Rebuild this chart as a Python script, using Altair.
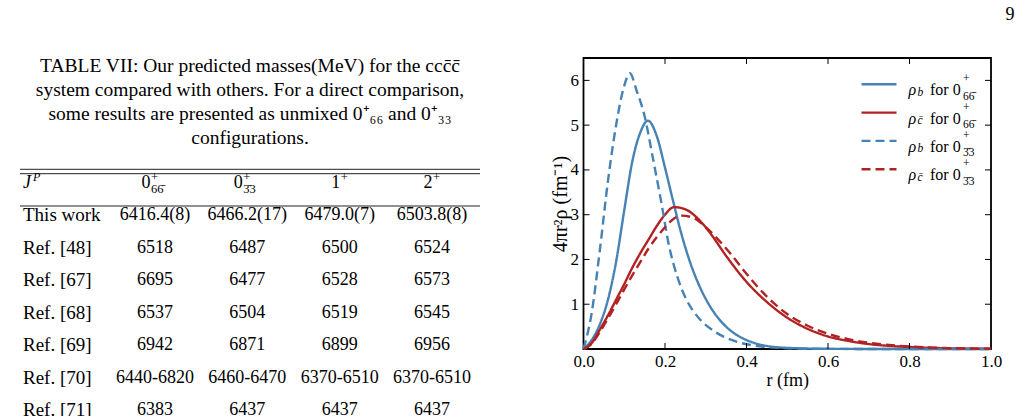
import altair as alt
import pandas as pd

SERIF = "Liberation Serif"

# ---------------- radial densities 4πr²ρ (fm⁻¹) against r (fm) ----------------
r_b66 = [0, 0.02, 0.04, 0.06, 0.08, 0.10, 0.12, 0.14, 0.158, 0.18, 0.20, 0.22, 0.24,
         0.26, 0.28, 0.30, 0.32, 0.34, 0.37, 0.40, 0.44, 0.50, 0.60, 0.80, 1.00]
d_b66 = [0, 0.20, 0.55, 1.10, 1.95, 3.10, 4.20, 4.85, 5.10, 4.75, 4.05, 3.30, 2.58,
         1.98, 1.50, 1.12, 0.82, 0.59, 0.35, 0.20, 0.085, 0.025, 0.004, 0, 0]

r_c66 = [0, 0.02, 0.04, 0.06, 0.08, 0.10, 0.12, 0.14, 0.16, 0.18, 0.20, 0.222, 0.25,
         0.28, 0.31, 0.35, 0.40, 0.45, 0.50, 0.55, 0.60, 0.65, 0.70, 0.75, 0.80, 0.90, 1.00]
d_c66 = [0, 0.13, 0.43, 0.75, 1.10, 1.45, 1.82, 2.15, 2.45, 2.75, 3.00, 3.17, 3.12,
         2.92, 2.60, 2.08, 1.50, 1.05, 0.70, 0.45, 0.28, 0.18, 0.11, 0.07, 0.045, 0.015, 0.005]

r_b33 = [0, 0.02, 0.04, 0.06, 0.08, 0.10, 0.114, 0.13, 0.15, 0.17, 0.19, 0.21, 0.23,
         0.25, 0.27, 0.29, 0.32, 0.35, 0.38, 0.41, 0.45, 0.50, 0.60, 0.80, 1.00]
d_b33 = [0, 0.80, 2.20, 3.75, 5.00, 5.88, 6.16, 5.78, 5.20, 4.28, 3.32, 2.30, 1.62,
         1.15, 0.84, 0.62, 0.40, 0.25, 0.15, 0.09, 0.045, 0.017, 0.003, 0, 0]

r_c33 = [0, 0.02, 0.04, 0.06, 0.08, 0.10, 0.12, 0.14, 0.16, 0.18, 0.20, 0.22, 0.24,
         0.27, 0.30, 0.33, 0.36, 0.40, 0.45, 0.50, 0.55, 0.60, 0.65, 0.70, 0.75, 0.80, 0.90, 1.00]
d_c33 = [0, 0.12, 0.38, 0.68, 1.00, 1.33, 1.65, 1.95, 2.25, 2.50, 2.72, 2.90, 2.98,
         2.93, 2.72, 2.45, 2.14, 1.68, 1.17, 0.78, 0.52, 0.34, 0.22, 0.14, 0.09, 0.055, 0.02, 0.006]

curve_keys = ["b66", "c66", "b33", "c33"]
curve_colors = ["#4682b4", "#b22222", "#4682b4", "#b22222"]
curve_dashes = [[1, 0], [1, 0], [9, 5], [9, 5]]
legend_sub = ["b", "c\u0304", "b", "c\u0304"]
legend_cfg = ["66\u0304", "66\u0304", "3\u03043", "3\u03043"]

x_ticks = [0.0, 0.2, 0.4, 0.6, 0.8, 1.0]
y_ticks = [1, 2, 3, 4, 5, 6]

# ---------------- table of masses (MeV) ----------------
caption = [
    "TABLE VII: Our predicted masses(MeV) for the ccc\u0304c\u0304",
    "system compared with others. For a direct comparison,",
    "some results are presented as unmixed 0\u207a\u2086\u2086 and 0\u207a\u2083\u2083",
    "configurations.",
]
row_labels = ["This work", "Ref. [48]", "Ref. [67]", "Ref. [68]", "Ref. [69]", "Ref. [70]", "Ref. [71]"]
mass_0p66 = ["6416.4(8)", "6518", "6695", "6537", "6942", "6440-6820", "6383"]
mass_0p33 = ["6466.2(17)", "6487", "6477", "6504", "6871", "6460-6470", "6437"]
mass_1p = ["6479.0(7)", "6500", "6528", "6519", "6899", "6370-6510", "6437"]
mass_2p = ["6503.8(8)", "6524", "6573", "6545", "6956", "6370-6510", "6437"]
page_number = "9"

# ======================= table panel =======================
TW, TH = 500, 359
col_scale = alt.Scale(domain=[1, 4], range=[155, 432])
row_scale = alt.Scale(domain=[0, 7], range=[124.5, 352])
cap_scale = alt.Scale(domain=[0, 3], range=[8, 80])
txt = dict(font=SERIF, color="black", clip=True)

cell_rows = []
for j, column in enumerate([mass_0p66, mass_0p33, mass_1p, mass_2p]):
    for i, v in enumerate(column):
        cell_rows.append({"row": i + 1, "col": j + 1, "text": v})
cells = pd.DataFrame(cell_rows)

X_COL = alt.X("col:Q", scale=col_scale, axis=None)
Y_ROW = alt.Y("row:Q", scale=row_scale, axis=None)

layers_t = []
layers_t.append(
    alt.Chart(pd.DataFrame({"line": range(4), "text": caption}))
    .mark_text(align="center", baseline="middle", fontSize=19.5, **txt)
    .encode(x=alt.value(250), y=alt.Y("line:Q", scale=cap_scale, axis=None), text="text:N")
)
for yy in [111.3, 115.7, 148]:
    layers_t.append(
        alt.Chart(pd.DataFrame({"k": [0]}))
        .mark_rule(color="#222222", strokeWidth=1)
        .encode(x=alt.value(20), x2=alt.value(480), y=alt.value(yy))
    )
layers_t.append(
    alt.Chart(cells).mark_text(align="center", baseline="middle", fontSize=18, **txt)
    .encode(x=X_COL, y=Y_ROW, text="text:N")
)
layers_t.append(
    alt.Chart(pd.DataFrame({"row": range(1, 8), "text": row_labels}))
    .mark_text(align="left", baseline="middle", fontSize=19, **txt)
    .encode(x=alt.value(23), y=Y_ROW, text="text:N")
)
# header: J^P
hdr0 = pd.DataFrame({"row": [0], "j": ["J"], "p": ["P"]})
layers_t.append(
    alt.Chart(hdr0).mark_text(align="left", baseline="middle", fontSize=18, fontStyle="italic", **txt)
    .encode(x=alt.value(23), y=Y_ROW, text="j:N")
)
layers_t.append(
    alt.Chart(hdr0).mark_text(align="left", baseline="middle", fontSize=12, fontStyle="italic", dy=-6, **txt)
    .encode(x=alt.value(33), y=Y_ROW, text="p:N")
)
# header: 0+ with colour configuration subscripts
hdr_a = pd.DataFrame({"row": [0, 0], "col": [1, 2], "main": ["0", "0"], "sup": ["+", "+"],
                      "sub": ["66\u0304", "3\u03043"]})
layers_t.append(alt.Chart(hdr_a).mark_text(align="right", baseline="middle", fontSize=18, dx=-4.5, **txt)
                .encode(x=X_COL, y=Y_ROW, text="main:N"))
layers_t.append(alt.Chart(hdr_a).mark_text(align="left", baseline="middle", fontSize=12.5, dx=-4, dy=-6, **txt)
                .encode(x=X_COL, y=Y_ROW, text="sup:N"))
layers_t.append(alt.Chart(hdr_a).mark_text(align="left", baseline="middle", fontSize=12.5, dx=-4, dy=6.5, **txt)
                .encode(x=X_COL, y=Y_ROW, text="sub:N"))
hdr_b = pd.DataFrame({"row": [0, 0], "col": [3, 4], "main": ["1", "2"], "sup": ["+", "+"]})
layers_t.append(alt.Chart(hdr_b).mark_text(align="right", baseline="middle", fontSize=18, dx=0.5, **txt)
                .encode(x=X_COL, y=Y_ROW, text="main:N"))
layers_t.append(alt.Chart(hdr_b).mark_text(align="left", baseline="middle", fontSize=12.5, dx=1, dy=-6, **txt)
                .encode(x=X_COL, y=Y_ROW, text="sup:N"))

table = alt.layer(*layers_t).resolve_scale(y="independent").properties(width=TW, height=TH)

# ======================= density plot =======================
PW, PH = 407.5, 291
xsc = alt.Scale(domain=[0, 1], nice=False)
ysc = alt.Scale(domain=[0, 6.5], nice=False)

curves = pd.concat([
    pd.DataFrame({"r": r_b66, "v": d_b66, "curve": "b66"}),
    pd.DataFrame({"r": r_c66, "v": d_c66, "curve": "c66"}),
    pd.DataFrame({"r": r_b33, "v": d_b33, "curve": "b33"}),
    pd.DataFrame({"r": r_c33, "v": d_c33, "curve": "c33"}),
], ignore_index=True)

x_axis = alt.Axis(values=x_ticks, format=".1f", ticks=False, domain=False, grid=False,
                  labelFont=SERIF, labelFontSize=17, labelColor="black", labelPadding=4,
                  labelFlush=False, title="r (fm)", titleFont=SERIF, titleFontSize=18,
                  titleFontWeight="normal", titleColor="black", titlePadding=2)
y_axis = alt.Axis(values=y_ticks, format="d", ticks=False, domain=False, grid=False,
                  labelFont=SERIF, labelFontSize=17, labelColor="black", labelPadding=5,
                  labelFlush=False, title="4πr²ρ (fm⁻¹)", titleFont=SERIF, titleFontSize=20,
                  titleFontWeight="normal", titleColor="black", titlePadding=0)

# every layer that uses a positional scale carries the same axis definition,
# so the layer merges them into a single axis per channel
X_R = alt.X("r:Q", scale=xsc, axis=x_axis)
Y_V = alt.Y("v:Q", scale=ysc, axis=y_axis)

lines = alt.Chart(curves).mark_line(strokeWidth=2.4, interpolate="monotone").encode(
    x=X_R,
    y=Y_V,
    color=alt.Color("curve:N", scale=alt.Scale(domain=curve_keys, range=curve_colors), legend=None),
    strokeDash=alt.StrokeDash("curve:N", scale=alt.Scale(domain=curve_keys, range=curve_dashes), legend=None),
)

layers_p = [lines]
TL = 6  # inward tick length
xt = pd.DataFrame({"r": x_ticks[1:-1]})
yt = pd.DataFrame({"v": y_ticks})
tick_style = dict(color="black", strokeWidth=1)
layers_p.append(alt.Chart(xt).mark_rule(**tick_style).encode(
    x=X_R, y=alt.value(PH), y2=alt.value(PH - TL)))
layers_p.append(alt.Chart(xt).mark_rule(**tick_style).encode(
    x=X_R, y=alt.value(0), y2=alt.value(TL)))
layers_p.append(alt.Chart(yt).mark_rule(**tick_style).encode(
    y=Y_V, x=alt.value(0), x2=alt.value(TL)))
layers_p.append(alt.Chart(yt).mark_rule(**tick_style).encode(
    y=Y_V, x=alt.value(PW), x2=alt.value(PW - TL)))

# legend, upper right inside the frame
LEG_Y0, LEG_DY = 26.3, 28.3
for k, key in enumerate(curve_keys):
    yk = LEG_Y0 + LEG_DY * k
    one = pd.DataFrame({"a": ["\u03c1"], "s": [legend_sub[k]], "f": ["for 0"], "p": ["+"], "c": [legend_cfg[k]]})
    rule_kw = dict(color=curve_colors[k], strokeWidth=2.4)
    if curve_dashes[k] != [1, 0]:
        rule_kw["strokeDash"] = curve_dashes[k]
    layers_p.append(alt.Chart(one).mark_rule(**rule_kw).encode(
        x=alt.value(278), x2=alt.value(313), y=alt.value(yk)))
    layers_p.append(alt.Chart(one).mark_text(font=SERIF, fontSize=16, fontStyle="italic", align="left", color="black")
                    .encode(x=alt.value(325), y=alt.value(yk + 6), text="a:N"))
    layers_p.append(alt.Chart(one).mark_text(font=SERIF, fontSize=11.5, fontStyle="italic", align="left", color="black")
                    .encode(x=alt.value(334), y=alt.value(yk + 8.5), text="s:N"))
    layers_p.append(alt.Chart(one).mark_text(font=SERIF, fontSize=16, align="left", color="black")
                    .encode(x=alt.value(346.5), y=alt.value(yk + 6), text="f:N"))
    layers_p.append(alt.Chart(one).mark_text(font=SERIF, fontSize=11.5, align="left", color="black")
                    .encode(x=alt.value(379.5), y=alt.value(yk - 5), text="p:N"))
    layers_p.append(alt.Chart(one).mark_text(font=SERIF, fontSize=11.5, align="left", color="black")
                    .encode(x=alt.value(379.5), y=alt.value(yk + 12.5), text="c:N"))

# page number in the top right corner
layers_p.append(alt.Chart(pd.DataFrame({"t": [page_number]}))
                .mark_text(font=SERIF, fontSize=18, align="center", baseline="top", color="black")
                .encode(x=alt.value(426.5), y=alt.value(-52), text="t:N"))

plot = alt.layer(*layers_p).properties(
    width=PW, height=PH, view=alt.ViewBackground(stroke="black", strokeWidth=1.8))

chart = (
    alt.hconcat(table, plot, spacing=83.5, bounds="flush")
    .properties(padding={"left": 0, "top": 5, "right": 5, "bottom": 0})
    .configure_view(strokeWidth=0)
)

chart.save("out.html", embed_options={"renderer": "svg", "actions": False})
